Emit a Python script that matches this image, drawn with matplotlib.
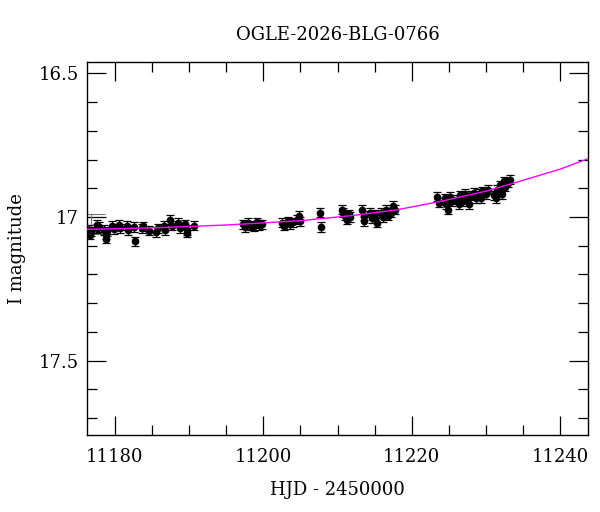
import matplotlib
matplotlib.use("Agg")
import matplotlib.pyplot as plt
from matplotlib.ticker import MultipleLocator

plt.rcParams['font.family'] = ['DejaVu Serif']

title = "OGLE-2026-BLG-0766"
xlabel = "HJD - 2450000"
ylabel = "I magnitude"

hjd = [
    11176.6, 11176.7, 11176.8, 11177.6, 11177.7, 11177.9,
    11178.6, 11178.8, 11178.9, 11179.0, 11179.7, 11179.9,
    11180.6, 11180.8, 11181.7, 11181.8, 11182.6, 11182.8,
    11183.7, 11183.9, 11184.7, 11185.6, 11185.8, 11186.6, 11186.8,
    11187.5, 11187.7, 11188.6, 11188.8, 11189.5, 11189.7, 11189.8, 11190.7,
    11197.3, 11197.5, 11198.0, 11198.3, 11198.7, 11199.2, 11199.4, 11199.8,
    11202.5, 11202.8, 11203.3, 11203.6, 11204.0, 11204.6, 11204.8, 11205.0,
    11207.7, 11207.8,
    11210.6, 11210.8, 11211.0, 11211.3, 11211.5, 11211.7,
    11213.3, 11213.5, 11213.6, 11214.4, 11214.6, 11215.1, 11215.3,
    11215.8, 11216.1, 11216.5, 11216.8, 11217.2, 11217.5, 11217.7,
    11223.4, 11223.6, 11224.4, 11224.6, 11224.8, 11225.2, 11225.4,
    11226.1, 11226.3, 11226.5, 11226.9, 11227.1, 11227.4, 11227.7, 11227.9,
    11228.4, 11228.6, 11229.0, 11229.3, 11229.5, 11230.0, 11230.3,
    11231.0, 11231.3, 11231.5, 11231.9, 11232.1, 11232.4, 11232.6, 11233.0, 11233.2,
]
mag = [
    17.045, 17.062, 17.050, 17.028, 17.040, 17.035,
    17.045, 17.062, 17.075, 17.050, 17.030, 17.042,
    17.028, 17.040, 17.030, 17.045, 17.035, 17.085,
    17.040, 17.032, 17.048, 17.052, 17.040, 17.030, 17.045,
    17.010, 17.030, 17.020, 17.040, 17.025, 17.045, 17.055, 17.030,
    17.025, 17.035, 17.020, 17.030, 17.032, 17.018, 17.028, 17.025,
    17.020, 17.030, 17.015, 17.025, 17.018, 17.010, 16.995, 17.015,
    16.985, 17.035,
    16.975, 16.985, 16.995, 17.010, 16.990, 17.000,
    16.975, 16.995, 17.015, 16.985, 17.005, 16.990, 17.020,
    16.985, 17.000, 16.975, 16.995, 16.985, 16.960, 16.975,
    16.930, 16.950, 16.935, 16.955, 16.975, 16.930, 16.945,
    16.940, 16.955, 16.925, 16.945, 16.920, 16.935, 16.955, 16.925,
    16.915, 16.935, 16.920, 16.935, 16.910, 16.920, 16.905,
    16.925, 16.935, 16.905, 16.890, 16.920, 16.875, 16.895, 16.880, 16.870,
]
err = [0.016] * len(hjd)

model_hjd = [11176.3, 11185.0, 11195.0, 11205.0, 11212.0, 11218.0, 11224.0, 11230.0, 11235.0, 11240.0, 11243.7]
model_mag = [17.043, 17.038, 17.028, 17.013, 16.995, 16.975, 16.945, 16.910, 16.872, 16.833, 16.797]

fig = plt.figure(figsize=(6.0, 5.12), dpi=100)
ax = fig.add_axes([0.145, 0.150, 0.835, 0.729])

ax.errorbar(hjd, mag, yerr=err, fmt='o', color='black', ms=4.5, elinewidth=0.9,
            capsize=3, capthick=0.9, zorder=3)
ax.errorbar([11176.9], [17.025], yerr=[0.035], fmt='none', ecolor='#777777',
            elinewidth=0.8, capsize=10, capthick=0.8, zorder=2)
ax.plot(model_hjd, model_mag, color='magenta', lw=1.0, zorder=4)

ax.set_xlim(11176.3, 11243.7)
ax.set_ylim(17.76, 16.46)

ax.xaxis.set_major_locator(MultipleLocator(20))
ax.xaxis.set_minor_locator(MultipleLocator(5))
ax.yaxis.set_major_locator(MultipleLocator(0.5))
ax.yaxis.set_minor_locator(MultipleLocator(0.1))
ax.yaxis.set_major_formatter(plt.FuncFormatter(lambda v, p: ('%g' % v)))

ax.tick_params(which='both', direction='in', top=True, right=True, labelsize=13, width=0.9)
ax.tick_params(which='major', length=14)
ax.tick_params(axis='y', which='major', pad=6)
ax.tick_params(axis='x', which='major', pad=9)
ax.tick_params(which='minor', length=7)
for s in ax.spines.values():
    s.set_linewidth(1.0)

ax.set_title(title, fontsize=13, pad=16)
ax.set_xlabel(xlabel, fontsize=13, labelpad=11)
ax.set_ylabel(ylabel, fontsize=13, labelpad=9)

fig.savefig("out.png", dpi=100)
